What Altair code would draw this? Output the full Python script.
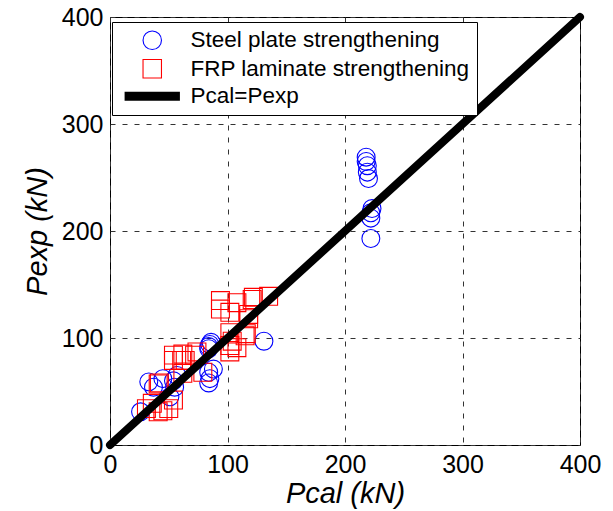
import altair as alt
import pandas as pd

# Steel plate strengthening (Pcal, Pexp)
steel_x = [26, 33, 37, 45, 51, 55, 54, 57, 84, 84, 85, 86, 85, 84, 84, 88, 131,
           218, 218, 219, 219, 220, 223, 222, 222, 222]
steel_y = [31, 59, 54, 62, 45, 54, 60, 65, 90, 92, 94, 96, 62, 58, 68, 71, 97,
           269, 265, 261, 255, 249, 221, 217, 212, 193]

# FRP laminate strengthening (Pcal, Pexp)
frp_x = [36, 31, 41, 45, 50, 54, 42, 41, 54, 61, 64, 54, 62, 72, 74, 79, 62,
         102, 102, 104, 108, 102, 116, 115, 118, 118, 94, 94, 102, 108, 121, 122, 135]
frp_y = [39, 34, 31, 32, 34, 42, 58, 57, 79, 79, 79, 84, 85, 84, 87, 68, 67,
         93, 87, 97, 91, 105, 104, 102, 118, 122, 135, 127, 124, 133, 136, 138, 139]

line_x = [0, 400]
line_y = [0, 400]

series = ["Steel plate strengthening", "FRP laminate strengthening", "Pcal=Pexp"]
ticks = [0, 100, 200, 300, 400]

pts = pd.DataFrame({
    "Pcal": steel_x + frp_x,
    "Pexp": steel_y + frp_y,
    "series": [series[0]] * len(steel_x) + [series[1]] * len(frp_x),
})
line_df = pd.DataFrame({"Pcal": line_x, "Pexp": line_y})

# legend symbol for the thick black line: stacked horizontal strokes
ys = [-0.42 + 0.105 * i for i in range(9)]
bar_path = "".join(f"M-3.0,{y:.3f}H3.0" for y in ys)

xs = alt.Scale(domain=[0, 400], nice=False)
yscale = alt.Scale(domain=[0, 400], nice=False)

leg = alt.Legend(
    title=None, orient="none", legendX=2, legendY=5,
    fillColor="white", strokeColor="black", padding=7,
    labelFont="Liberation Sans", labelFontSize=22.5, labelColor="black",
    labelLimit=500, labelOffset=27, symbolOffset=22, symbolSize=340,
    symbolStrokeWidth=1.1, rowPadding=4.5, symbolFillColor="transparent",
)

x_axis = alt.Axis(values=ticks, title="Pcal (kN)", labelFontSize=25, titleFontSize=29,
                  titleFontStyle="italic", labelPadding=7, titlePadding=2, labelFlush=False)
y_axis = alt.Axis(values=ticks, title="Pexp (kN)", labelFontSize=25, titleFontSize=29,
                  titleFontStyle="italic", labelPadding=7, titlePadding=9, labelFlush=False)

points = alt.Chart(pts).mark_point(filled=False, strokeWidth=1.1, size=320, opacity=1).encode(
    x=alt.X("Pcal:Q", scale=xs, axis=x_axis),
    y=alt.Y("Pexp:Q", scale=yscale, axis=y_axis),
    color=alt.Color("series:N", scale=alt.Scale(domain=series, range=["#0000ff", "#ff0000", "#000000"]), legend=leg),
    shape=alt.Shape("series:N", scale=alt.Scale(domain=series, range=["circle", "square", bar_path]), legend=leg),
)

line = alt.Chart(line_df).mark_line(color="black", strokeWidth=8, strokeCap="round").encode(
    x=alt.X("Pcal:Q", scale=xs),
    y=alt.Y("Pexp:Q", scale=yscale),
)

chart = alt.layer(points, line).properties(
    width=470, height=428,
    autosize=alt.AutoSizeParams(type="none"),
    padding={"left": 110, "top": 17, "right": 33, "bottom": 66},
    background="white",
).configure_view(
    stroke="black", strokeWidth=1,
).configure_axis(
    domain=False, ticks=False, grid=True, gridColor="#333333", gridDash=[5, 7],
    gridWidth=1, gridOpacity=1, labelFont="Liberation Sans", titleFont="Liberation Sans",
    labelColor="black", titleColor="black", titleFontWeight="normal",
)

chart.save("out.html", embed_options={"renderer": "svg", "actions": False})
